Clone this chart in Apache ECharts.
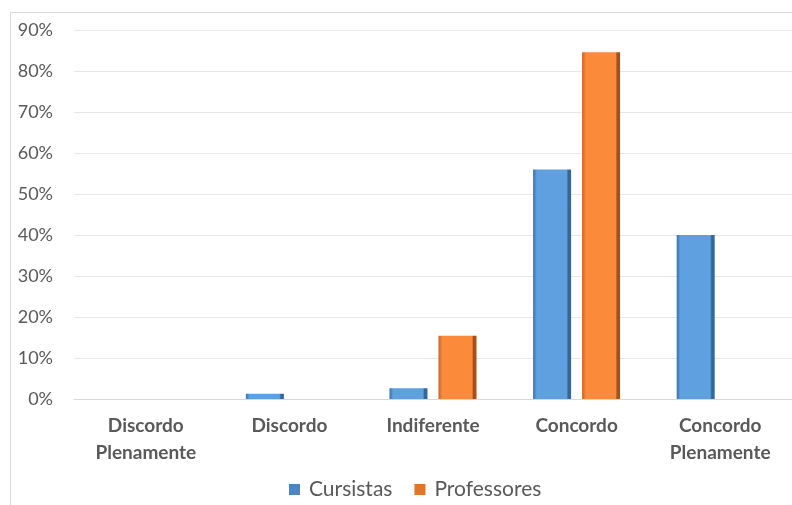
<!DOCTYPE html>
<html><head><meta charset="utf-8">
<script src="https://cdn.jsdelivr.net/npm/echarts@6/dist/echarts.min.js"></script>
<style>html,body{margin:0;padding:0;background:#fff}#c{width:792px;height:505px}</style>
</head><body><div id="c"></div>
<script>
var categories = ["Discordo\nPlenamente", "Discordo", "Indiferente", "Concordo", "Concordo\nPlenamente"];
var cursistas = [0, 1.3, 2.6, 56, 40];
var professores = [0, 0, 15.4, 84.6, 0];
var yTicks = [0, 10, 20, 30, 40, 50, 60, 70, 80, 90];

var font = "Lato, 'Noto Sans', sans-serif";
function grad(edge, mid, dark) {
  return new echarts.graphic.LinearGradient(0, 0, 1, 0, [
    {offset: 0, color: edge}, {offset: 0.1, color: mid}, {offset: 0.88, color: mid}, {offset: 0.92, color: dark}, {offset: 1, color: dark}
  ]);
}
var chart = echarts.init(document.getElementById('c'));
chart.setOption({
  animation: false,
  graphic: [{type: 'rect', shape: {x: 10.5, y: 12.5, width: 900, height: 600}, style: {fill: 'none', stroke: '#d9d9d9', lineWidth: 1}, silent: true}],
  grid: {left: 74, top: 30, width: 725, height: 369, containLabel: false},
  legend: {
    top: 474, left: 284, itemWidth: 11, itemHeight: 11, itemGap: 22,
    textStyle: {fontFamily: font, fontSize: 21, color: '#595959', padding: [0, 0, 0, 4]},
    data: [{name: 'Cursistas', icon: 'rect', itemStyle: {color: '#4a86c4'}}, {name: 'Professores', icon: 'rect', itemStyle: {color: '#e27528'}}]
  },
  xAxis: {
    type: 'category', data: categories,
    axisLine: {lineStyle: {color: '#d9d9d9'}}, axisTick: {show: false},
    axisLabel: {fontFamily: font, fontSize: 19, fontWeight: 'bold', color: '#595959', margin: 13, lineHeight: 27, interval: 0}
  },
  yAxis: {
    type: 'value', min: 0, max: 90, interval: 10,
    axisLabel: {fontFamily: font, fontSize: 18, color: '#595959', margin: 21, formatter: function(v){ return yTicks.indexOf(v) >= 0 ? v + '%' : ''; }},
    splitLine: {lineStyle: {color: '#e6e6e6'}},
    axisLine: {show: false}, axisTick: {show: false}
  },
  series: [
    {name: 'Cursistas', type: 'bar', data: cursistas, barWidth: 38, barGap: '29%',
     itemStyle: {color: grad('#3a70aa', '#5fa0e0', '#33689f')}},
    {name: 'Professores', type: 'bar', data: professores, barWidth: 38,
     itemStyle: {color: grad('#c9601c', '#fb8b3b', '#a84f18')}}
  ]
});
</script></body></html>
